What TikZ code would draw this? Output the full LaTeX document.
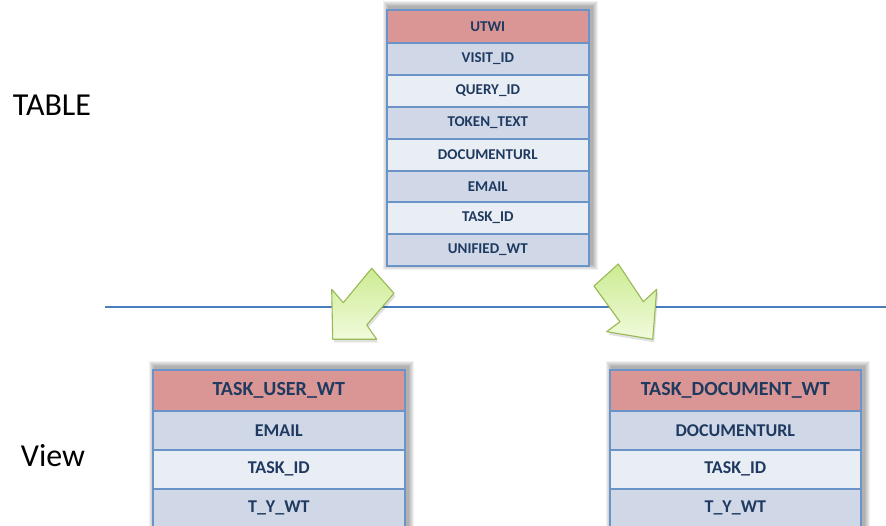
\documentclass[tikz,border=0pt]{standalone}
\usepackage{fontspec}
\setmainfont{Carlito}
\usetikzlibrary{backgrounds}
\definecolor{hdr}{HTML}{D99694}
\definecolor{rowa}{HTML}{D0D8E8}
\definecolor{rowb}{HTML}{E9EDF4}
\definecolor{bord}{HTML}{6A93C8}
\definecolor{txt}{HTML}{1F3A60}
\definecolor{linec}{HTML}{4A7EBB}
\definecolor{arrowdark}{HTML}{CDEB92}
\definecolor{arrowlight}{HTML}{F0FBDC}
\definecolor{arrowbord}{HTML}{98B954}
\tikzset{
  cell/.style={draw=bord, line width=1.6pt, inner sep=0pt, text=txt, anchor=north west, font=\bfseries},
  topcell/.style={cell, minimum width=202pt, minimum height=32pt, font=\bfseries\fontsize{15}{15}\selectfont},
  botcell/.style={cell, minimum width=251pt, minimum height=39pt, font=\bfseries\fontsize{18}{18}\selectfont},
  bothdr/.style={botcell, fill=hdr, minimum height=41pt, font=\bfseries\fontsize{20}{20}\selectfont},
  shadowlayer/.style={fill=black, opacity=0.06},
  arrowshadow/.style={fill=black, opacity=0.12},
  blockarrow/.style={draw=arrowbord, line width=1.1pt, top color=arrowdark, bottom color=arrowlight, line join=round},
  sidelabel/.style={font=\fontsize{32}{32}\selectfont, text=black}
}
\newcommand{\tblshadow}[2]{%
  \foreach \d in {1,...,6}{%
    \fill[shadowlayer] ([shift={(3-\d,-2-\d)}]#1.north west) rectangle ([shift={(2+\d,\d-3)}]#2.south east);
  }%
}
\begin{document}
\begin{tikzpicture}[x=1pt, y=-1pt]
\useasboundingbox (0,0) rectangle (886,526);

% separator line
\draw[linec, line width=1.8pt] (105,306.7) -- (886,306.7);

% top table
\node[topcell, fill=hdr, minimum height=33pt] (u0) at (386,9) {UTWI};
\node[topcell, fill=rowa] (u1) at (386,42) {VISIT\_ID};
\node[topcell, fill=rowb] (u2) at (386,74) {QUERY\_ID};
\node[topcell, fill=rowa] (u3) at (386,106) {TOKEN\_TEXT};
\node[topcell, fill=rowb] (u4) at (386,138) {DOCUMENTURL};
\node[topcell, fill=rowa] (u5) at (386,170) {EMAIL};
\node[topcell, fill=rowb] (u6) at (386,201) {TASK\_ID};
\node[topcell, fill=rowa] (u7) at (386,233) {UNIFIED\_WT};

% bottom left table
\node[bothdr, minimum width=252pt] (l0) at (152,369) {TASK\_USER\_WT};
\node[botcell, fill=rowa, minimum width=252pt] (l1) at (152,410) {EMAIL};
\node[botcell, fill=rowb, minimum width=252pt] (l2) at (152,449) {TASK\_ID};
\node[botcell, fill=rowa, minimum width=252pt] (l3) at (152,488) {T\_Y\_WT};

% bottom right table
\node[bothdr] (r0) at (609,369) {TASK\_DOCUMENT\_WT};
\node[botcell, fill=rowa] (r1) at (609,410) {DOCUMENTURL};
\node[botcell, fill=rowb] (r2) at (609,449) {TASK\_ID};
\node[botcell, fill=rowa] (r3) at (609,488) {T\_Y\_WT};

\begin{pgfonlayer}{background}
  \tblshadow{u0}{u7}
  \tblshadow{l0}{l3}
  \tblshadow{r0}{r3}
\end{pgfonlayer}

% block arrows (soft shadow first)
\fill[arrowshadow] (373.2,271.3) -- (395.5,296.3) -- (368.2,328) -- (378.2,342.3)
  -- (334.2,342.3) -- (333.2,292.3) -- (344.8,305.7) -- cycle;
\shade[blockarrow] (371.7,268.3) -- (394,293.3) -- (366.7,325) -- (376.7,339.3)
  -- (332.7,339.3) -- (331.7,289.3) -- (343.3,302.7) -- cycle;
\fill[arrowshadow] (619.8,267) -- (595.5,289) -- (621.5,324.7) -- (608.2,334.7)
  -- (654.2,342.3) -- (658.2,292.3) -- (644.8,304.7) -- cycle;
\shade[blockarrow] (618.3,264) -- (594,286) -- (620,321.7) -- (606.7,331.7)
  -- (652.7,339.3) -- (656.7,289.3) -- (643.3,301.7) -- cycle;

% side labels
\node[sidelabel] (tablelbl) at (52,105) {TABLE};
\node[sidelabel] (viewlbl) at (53,456) {View};
\end{tikzpicture}
\end{document}
